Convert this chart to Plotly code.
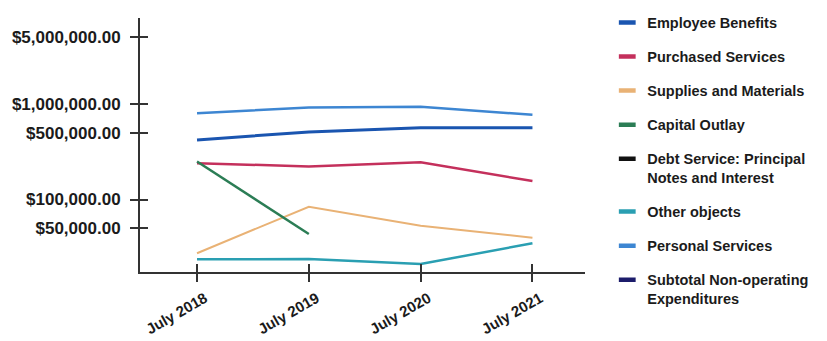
import plotly.graph_objects as go

categories = ["July 2018", "July 2019", "July 2020", "July 2021"]

series_names = [
    "Employee Benefits",
    "Purchased Services",
    "Supplies and Materials",
    "Capital Outlay",
    "Debt Service: Principal<br>Notes and Interest",
    "Other objects",
    "Personal Services",
    "Subtotal Non-operating<br>Expenditures",
]

employee_benefits = [420000, 510000, 565000, 565000]
purchased_services = [240000, 222000, 245000, 156000]
supplies_materials = [27400, 84000, 53200, 39800]
capital_outlay = [250000, 43500, None, None]
debt_service = [None, None, None, None]
other_objects = [23700, 23800, 21100, 34800]
personal_services = [800000, 920000, 935000, 770000]
subtotal_nonop = [None, None, None, None]

series_values = [employee_benefits, purchased_services, supplies_materials,
                 capital_outlay, debt_service, other_objects,
                 personal_services, subtotal_nonop]

colors = ["#1a55b0", "#c4305c", "#e9b275", "#2b7d55", "#111111",
          "#2a9fb2", "#3d86d2", "#1c1c6b"]
widths = [3, 2.5, 2, 2.5, 2, 2.5, 2.5, 2]

y_tickvals = [50000, 100000, 500000, 1000000, 5000000]
y_ticktext = ["$50,000.00", "$100,000.00", "$500,000.00", "$1,000,000.00", "$5,000,000.00"]

FONT = "Liberation Sans, Arial, sans-serif"
TXT = "#1b1b1b"
AX = "#333333"

fig = go.Figure()

for i, (name, vals) in enumerate(zip(series_names, series_values)):
    fig.add_trace(go.Scatter(
        x=categories, y=vals, mode="lines", name=name,
        line=dict(color=colors[i], width=widths[i]),
        showlegend=False, hoverinfo="skip",
    ))

# legend entries (short thick dash symbols)
for i, name in enumerate(series_names):
    fig.add_trace(go.Scatter(
        x=[None], y=[None], mode="markers", name=name,
        legendgroup=f"g{i}",
        marker=dict(symbol="line-ew", size=12,
                    line=dict(color=colors[i], width=4.5)),
        showlegend=True, hoverinfo="skip",
    ))

# overlay axes: crossing ticks and slightly offset tick labels
fig.add_trace(go.Scatter(x=categories, y=[None]*4, xaxis="x2", yaxis="y2",
                         showlegend=False, hoverinfo="skip", mode="lines"))
fig.add_trace(go.Scatter(x=categories, y=[None]*4, xaxis="x3", yaxis="y",
                         showlegend=False, hoverinfo="skip", mode="lines"))

yrange = [4.241, 6.90]
xrange = [-0.51, 3.47]
label_shift = 0.07
xrange_labels = [xrange[0] - label_shift, xrange[1] - label_shift]

fig.update_layout(
    width=827, height=341,
    margin=dict(l=140, r=242, t=18, b=69, autoexpand=False),
    paper_bgcolor="white", plot_bgcolor="white",
    font=dict(family=FONT, color=TXT),
    xaxis=dict(
        type="category", range=xrange, showgrid=False, zeroline=False,
        showline=True, linecolor=AX, linewidth=2, automargin=False,
        ticks="outside", ticklen=8, tickwidth=2, tickcolor=AX,
        showticklabels=False,
    ),
    xaxis3=dict(
        type="category", range=xrange_labels, overlaying="x", anchor="y",
        side="bottom", showgrid=False, zeroline=False, showline=False,
        automargin=False, ticks="", tickangle=-30, ticklabelstandoff=14,
        tickfont=dict(family=FONT, size=15, color=TXT, weight="bold"),
    ),
    yaxis=dict(
        type="log", range=yrange, showgrid=False, zeroline=False,
        showline=True, linecolor=AX, linewidth=2, automargin=False,
        tickvals=y_tickvals, ticktext=y_ticktext,
        ticks="outside", ticklen=8, tickwidth=2, tickcolor=AX,
        ticklabelstandoff=6,
        tickfont=dict(family=FONT, size=17, color=TXT, weight="bold"),
    ),
    xaxis2=dict(
        type="category", range=xrange, overlaying="x", anchor="y2",
        showgrid=False, zeroline=False, showline=False, automargin=False,
        ticks="inside", ticklen=8, tickwidth=2, tickcolor=AX,
        showticklabels=False,
    ),
    yaxis2=dict(
        type="log", range=yrange, overlaying="y", anchor="x2",
        showgrid=False, zeroline=False, showline=False, automargin=False,
        tickvals=y_tickvals, ticks="inside", ticklen=8, tickwidth=2,
        tickcolor=AX, showticklabels=False,
    ),
    legend=dict(
        x=1.05, xanchor="left", y=1.045, yanchor="top",
        font=dict(family=FONT, size=14.5, color=TXT, weight="bold"),
        tracegroupgap=12.2, valign="top", maxheight=340,
        bgcolor="rgba(0,0,0,0)", itemclick=False, itemdoubleclick=False,
    ),
    showlegend=True,
)

fig.write_html("out.html")
